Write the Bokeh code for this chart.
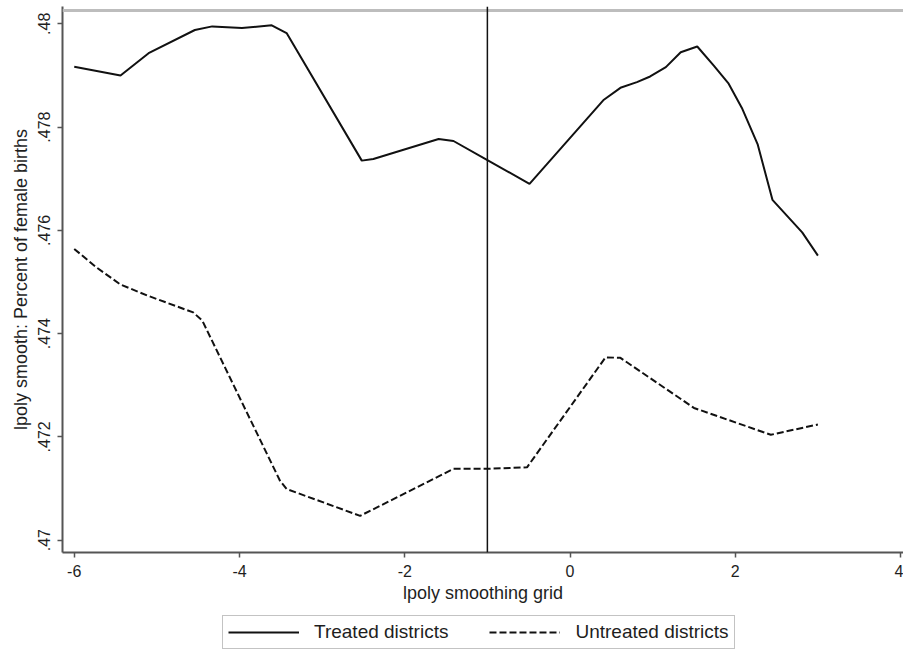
from bokeh.plotting import figure
from bokeh.models import (Range1d, FixedTicker, CustomJSTickFormatter, Span, Legend, LegendItem)
from bokeh.layouts import column
from bokeh.embed import file_html
from bokeh.resources import INLINE

# ---- data ----
treated_x = [-6.0, -5.44, -5.10, -4.54, -4.33, -3.97, -3.61, -3.43, -2.52, -2.38,
             -1.59, -1.41, -1.0, -0.49, 0.41, 0.61, 0.81, 0.97, 1.16, 1.34,
             1.54, 1.74, 1.92, 2.08, 2.27, 2.45, 2.81, 3.0]
treated_y = [0.47917, 0.47900, 0.47943, 0.47988, 0.47995, 0.47992, 0.47997, 0.47982, 0.47735, 0.47738,
             0.47777, 0.47773, 0.47736, 0.47690, 0.47853, 0.47876, 0.47887, 0.47898, 0.47916, 0.47945,
             0.47956, 0.47919, 0.47884, 0.47837, 0.47767, 0.47659, 0.47596, 0.47551]

untreated_x = [-6.0, -5.73, -5.44, -5.12, -4.56, -4.45, -3.51, -3.43, -2.54, -1.41,
               -1.0, -0.52, 0.43, 0.61, 1.50, 2.43, 3.0]
untreated_y = [0.47564, 0.47528, 0.47495, 0.47474, 0.47441, 0.47425, 0.47115, 0.47099, 0.47047, 0.47138,
               0.47138, 0.47141, 0.47354, 0.47353, 0.47256, 0.47204, 0.47224]

x_ticks = [-6, -4, -2, 0, 2, 4]
y_ticks = [0.47, 0.472, 0.474, 0.476, 0.478, 0.48]
cutoff_x = -1.0

series_names = ["Treated districts", "Untreated districts"]
x_title = "lpoly smoothing grid"
y_title = "lpoly smooth: Percent of female births"

FONT = "Liberation Sans"
TEXT = "#1e1e1e"
LINE = "#111111"

p = figure(width=903, height=613, output_backend="svg", toolbar_location=None,
           x_range=Range1d(-6.142, 4.036), y_range=Range1d(0.46976, 0.480335),
           min_border_left=62, min_border_right=0, min_border_top=6, min_border_bottom=61)
p.background_fill_color = "white"
p.border_fill_color = "white"
p.outline_line_color = None
p.grid.visible = False

# top frame border (light gray)
p.add_layout(Span(location=0.480258, dimension="width", line_color="#bdbdbd", line_width=3))

# vertical cutoff line
p.add_layout(Span(location=cutoff_x, dimension="height", line_color=LINE, line_width=1.5))

p.line(treated_x, treated_y, line_color=LINE, line_width=2)
p.line(untreated_x, untreated_y, line_color=LINE, line_width=2, line_dash="7 3")

# axes
for ax in (p.xaxis[0], p.yaxis[0]):
    ax.axis_line_color = "#555555"
    ax.axis_line_width = 2
    ax.major_tick_line_color = "#555555"
    ax.major_tick_line_width = 1.5
    ax.major_tick_out = 5
    ax.major_tick_in = 0
    ax.minor_tick_line_color = None
    ax.major_label_text_font = FONT
    ax.major_label_text_color = TEXT
    ax.axis_label_text_font = FONT
    ax.axis_label_text_color = TEXT
    ax.axis_label_text_font_style = "normal"

p.xaxis[0].ticker = FixedTicker(ticks=x_ticks)
p.xaxis[0].formatter = CustomJSTickFormatter(code="return String(tick);")
p.xaxis[0].major_label_text_font_size = "16px"
p.xaxis[0].major_label_standoff = 7
p.xaxis[0].axis_label = x_title
p.xaxis[0].axis_label_text_font_size = "18px"
p.xaxis[0].axis_label_standoff = 3

p.yaxis[0].ticker = FixedTicker(ticks=y_ticks)
p.yaxis[0].formatter = CustomJSTickFormatter(
    code="return tick.toFixed(3).replace(/0+$/, '').replace(/^0/, '');")
p.yaxis[0].major_label_orientation = "vertical"
p.yaxis[0].major_label_text_font_size = "16px"
p.yaxis[0].major_label_standoff = 7
p.yaxis[0].axis_label = y_title
p.yaxis[0].axis_label_text_font_size = "18px"
p.yaxis[0].axis_label_standoff = 5

# legend strip (separate small figure holding only the legend; its frame is
# aligned with the main frame by the column layout)
q = figure(width=903, height=38, output_backend="svg", toolbar_location=None,
           x_range=Range1d(0, 1), y_range=Range1d(0, 1),
           min_border_left=0, min_border_right=0, min_border_top=0, min_border_bottom=0)
q.axis.visible = False
q.grid.visible = False
q.outline_line_color = None
q.background_fill_color = "white"
q.border_fill_color = "white"
# key renderers: their points lie outside the strip's ranges, only the legend shows them
k1 = q.line([5, 6], [5, 6], line_color=LINE, line_width=2)
k2 = q.line([5, 6], [5, 6], line_color=LINE, line_width=2, line_dash="7 3")

legend = Legend(items=[LegendItem(label=series_names[0], renderers=[k1]),
                       LegendItem(label=series_names[1], renderers=[k2])],
                orientation="horizontal", location=(160, 2))
legend.label_text_font = FONT
legend.label_text_font_size = "19px"
legend.label_text_color = TEXT
legend.glyph_width = 71
legend.glyph_height = 20
legend.label_standoff = 15
legend.spacing = 41
legend.padding = 5
legend.margin = 0
legend.border_line_color = "#888888"
legend.border_line_width = 1.5
legend.background_fill_color = "white"
legend.background_fill_alpha = 1.0
q.add_layout(legend, "center")

layout = column(p, q, spacing=0)
open("out.html", "w").write(file_html(layout, INLINE))
